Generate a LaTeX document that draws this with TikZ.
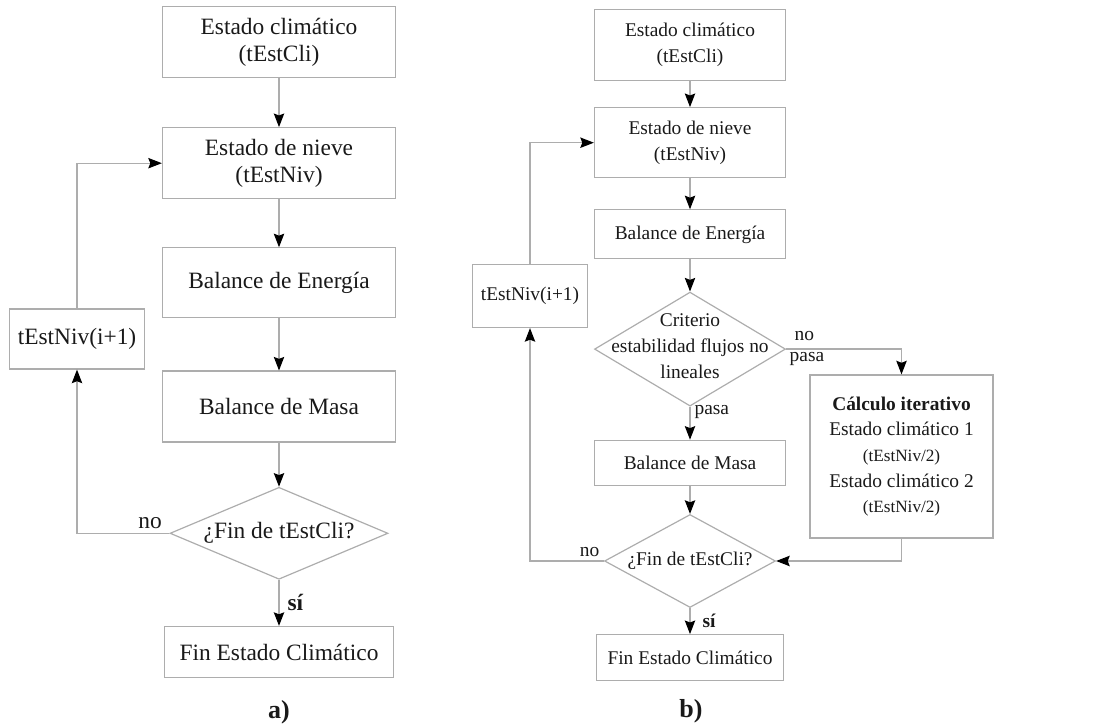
\documentclass[tikz,border=0pt]{standalone}
\usepackage{fontspec}
\setmainfont{Liberation Serif}
\usepackage{xcolor}
\usetikzlibrary{positioning, arrows.meta, shapes.geometric}

\definecolor{linegray}{gray}{0.68}
\definecolor{txtgray}{gray}{0.1}
% text inside a diamond, kept out of the shape size
\newcommand{\flowtext}[1]{\smash{\raisebox{-0.25em}{\makebox[0pt]{\begin{tabular}{@{}c@{}}#1\end{tabular}}}}}

\begin{document}
\begin{tikzpicture}[
    x=0.5pt, y=-0.5pt,
    every node/.style={text=txtgray, font=\fontsize{11.7}{13.5}\selectfont},
    box/.style={draw=linegray, line width=0.6pt, align=center, inner sep=2pt},
    decision/.style={diamond, draw=linegray, line width=0.6pt, inner sep=0pt},
    arr/.style={draw=linegray, line width=0.6pt,
                -{Stealth[length=6.8pt, width=5.2pt, inset=1pt, black]}},
    edgelabel/.style={inner sep=2pt},
    caption/.style={font=\fontsize{13}{15}\selectfont\bfseries}
  ]
  \useasboundingbox (0,0) rectangle (1097,726);

  % a) sin criterio de estabilidad
  \node[box, minimum width=116.5pt, minimum height=35.5pt] (a1) at (279,42) {Estado climático\\(tEstCli)};
  \node[box, minimum width=116.5pt, minimum height=35.5pt, below=24.5pt of a1] (a2) {Estado de nieve\\(tEstNiv)};
  \node[box, minimum width=116.5pt, minimum height=35pt, below=24pt of a2] (a3) {Balance de Energía};
  \node[box, minimum width=116.5pt, minimum height=35.5pt, below=26pt of a3] (a4) {Balance de Masa};
  \node[decision, minimum width=109pt, minimum height=46pt, below=22pt of a4] (a5) {\flowtext{¿Fin de tEstCli?}};
  \node[box, minimum width=114.5pt, minimum height=25.5pt, below=23pt of a5] (a6) {Fin Estado Climático};
  \node[box, minimum width=67.5pt, minimum height=30pt] (a7) at (77,339) {tEstNiv(i+1)};
  \node[caption] (capa) at (279,712) {a)};

  \draw[arr] (a1) -- (a2);
  \draw[arr] (a2) -- (a3);
  \draw[arr] (a3) -- (a4);
  \draw[arr] (a4) -- (a5);
  \draw[arr] (a5) -- node[edgelabel, right, xshift=2pt]{\textbf{sí}} (a6);
  \draw[arr] (a5.west) -| node[edgelabel, above left, pos=0, xshift=-1.5pt]{no} (a7);
  \draw[arr] (a7) |- (a2);

  % b) con criterio de estabilidad
  \begin{scope}[every node/.append style={font=\fontsize{9.7}{12.8}\selectfont}]
  \node[box, minimum width=95.5pt, minimum height=35.5pt] (b1) at (690,45) {Estado climático\\(tEstCli)};
  \node[box, minimum width=95.5pt, minimum height=35pt, below=13pt of b1] (b2) {Estado de nieve\\(tEstNiv)};
  \node[box, minimum width=95.5pt, minimum height=24.5pt, below=15.5pt of b2] (b3) {Balance de Energía};
  \node[decision, minimum width=95.5pt, minimum height=57pt, below=16pt of b3] (b4) {\raisebox{1.5pt}{\flowtext{Criterio\\estabilidad flujos no\\lineales}}};
  \node[box, minimum width=95.5pt, minimum height=22.5pt, below=16.5pt of b4] (b5) {Balance de Masa};
  \node[decision, minimum width=85.5pt, minimum height=46.5pt, below=14pt of b5] (b6) {\flowtext{¿Fin de tEstCli?}};
  \node[box, minimum width=93.5pt, minimum height=23pt, below=13pt of b6] (b7) {Fin Estado Climático};
  \node[box, minimum width=57.5pt, minimum height=31.5pt] (b8) at (530,296) {tEstNiv(i+1)};
  \node[box, minimum width=91.5pt, minimum height=81.5pt] (b9) at (901.5,456.5)
    {\textbf{Cálculo iterativo}\\Estado climático 1\\{\fontsize{8.6}{12.8}\selectfont(tEstNiv/2)}\\
     Estado climático 2\\{\fontsize{8.6}{12.8}\selectfont(tEstNiv/2)}};
  \node[caption] (capb) at (691,711) {b)};

  \draw[arr] (b1) -- (b2);
  \draw[arr] (b2) -- (b3);
  \draw[arr] (b3) -- (b4);
  \draw[arr] (b4) -- node[edgelabel, right, pos=0.15]{pasa} (b5);
  \draw[arr] (b5) -- (b6);
  \draw[arr] (b6) -- node[edgelabel, right, xshift=4pt]{\textbf{sí}} (b7);
  \draw[arr] (b4.east) -| node[edgelabel, above right, pos=0, xshift=2pt, yshift=2pt]{no}
                          node[edgelabel, below right, pos=0, inner sep=1.5pt]{pasa} (b9);
  \draw[arr] (b9) |- (b6.east);
  \draw[arr] (b6.west) -| node[edgelabel, above left, pos=0]{no} (b8);
  \draw[arr] (b8) |- (b2);
  \end{scope}
\end{tikzpicture}
\end{document}
